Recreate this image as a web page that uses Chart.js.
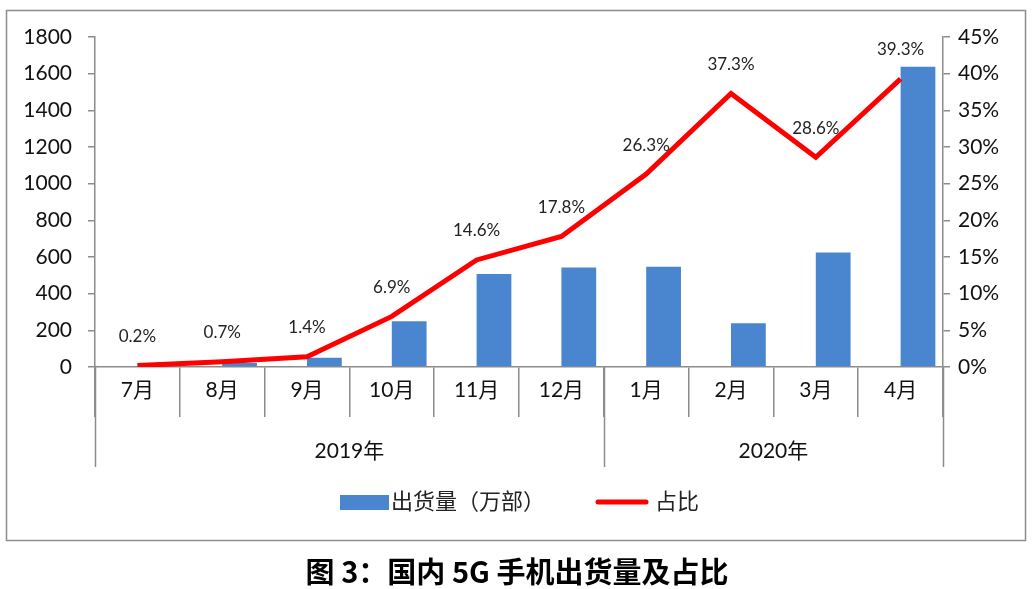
<!DOCTYPE html>
<html>
<head>
<meta charset="utf-8">
<script src="https://cdn.jsdelivr.net/npm/chart.js@4"></script>
<style>
  html, body { margin: 0; padding: 0; background: #fff; }
  #wrap { position: relative; width: 1034px; height: 589px; }
</style>
</head>
<body>
<div id="wrap"><canvas id="shipChart" width="1034" height="589"></canvas></div>
<script>
// chart data
const months = ['7月', '8月', '9月', '10月', '11月', '12月', '1月', '2月', '3月', '4月'];
const shipments = [3, 22, 50, 249, 507, 543, 547, 239, 624, 1638];
const shareRatio = [0.2, 0.7, 1.4, 6.9, 14.6, 17.8, 26.3, 37.3, 28.6, 39.3];
const years = ['2019年', '2020年'];
const yearMonthCounts = [6, 4];
const leftTickMax = 1800, leftTickStep = 200;
const rightTickMax = 45, rightTickStep = 5;

const FONT = "Lato, 'Noto Sans CJK SC', sans-serif";
const AXIS_GREY = '#8c8c8c';
const BAR_BLUE = '#4a85d0';

// extras: border, year row, data labels, legend, caption
const extrasPlugin = {
    id: 'extras',
    afterDatasetsDraw(chart) {
        const ctx = chart.ctx;
        const lineMeta = chart.getDatasetMeta(2);
        ctx.save();
        ctx.font = '17px ' + FONT;
        ctx.fillStyle = '#222';
        ctx.textAlign = 'center';
        ctx.textBaseline = 'middle';
        lineMeta.data.forEach((pt, i) => {
            ctx.fillText(shareRatio[i].toFixed(1) + '%', pt.x, pt.y - 29);
        });
        ctx.restore();
    },
    afterDraw(chart) {
        const ctx = chart.ctx;
        const area = chart.chartArea;
        const catW = (area.right - area.left) / months.length;

        ctx.save();
        // outer frame
        ctx.strokeStyle = AXIS_GREY;
        ctx.lineWidth = 1.5;
        ctx.strokeRect(6.5, 10.5, 1019, 530);

        // year group row
        let start = 0;
        const edges = [0];
        yearMonthCounts.forEach(n => { start += n; edges.push(start); });
        edges.forEach(idx => {
            const px = Math.round(area.left + idx * catW) + 0.5;
            ctx.beginPath();
            ctx.moveTo(px, area.bottom);
            ctx.lineTo(px, area.bottom + 100);
            ctx.stroke();
        });
        ctx.font = '21px ' + FONT;
        ctx.fillStyle = '#111';
        ctx.textAlign = 'center';
        ctx.textBaseline = 'middle';
        years.forEach((label, i) => {
            const cx = area.left + (edges[i] + edges[i + 1]) / 2 * catW;
            ctx.fillText(label, cx, area.bottom + 84);
        });

        // legend
        ctx.fillStyle = BAR_BLUE;
        ctx.fillRect(340, 495, 49, 15);
        ctx.font = '22px ' + FONT;
        ctx.fillStyle = '#222';
        ctx.textAlign = 'left';
        ctx.fillText(chart.data.datasets[1].label, 391, 502);
        ctx.strokeStyle = '#ff0000';
        ctx.lineWidth = 5;
        ctx.lineCap = 'round';
        ctx.beginPath();
        ctx.moveTo(598, 502);
        ctx.lineTo(646, 502);
        ctx.stroke();
        ctx.fillText(chart.data.datasets[2].label, 655, 502);

        // caption
        ctx.font = "bold 29px 'Noto Sans CJK SC', sans-serif";
        ctx.fillStyle = '#000';
        ctx.textAlign = 'center';
        ctx.fillText('图 3：国内 5G 手机出货量及占比', 517, 572);
        ctx.restore();
    }
};

const ctx = document.getElementById('shipChart').getContext('2d');
new Chart(ctx, {
    data: {
        labels: months,
        datasets: [
            {
                // empty slot so the real bar sits right of centre, as in the original
                type: 'bar',
                label: '',
                data: months.map(() => null),
                backgroundColor: 'rgba(0,0,0,0)',
                yAxisID: 'y',
                order: 1
            },
            {
                type: 'bar',
                label: '出货量（万部）',
                data: shipments,
                backgroundColor: BAR_BLUE,
                yAxisID: 'y',
                order: 1
            },
            {
                type: 'line',
                label: '占比',
                data: shareRatio,
                borderColor: '#ff0000',
                borderWidth: 5,
                pointRadius: 0,
                tension: 0,
                yAxisID: 'y1',
                order: 0
            }
        ]
    },
    options: {
        responsive: false,
        animation: false,
        devicePixelRatio: 1,
        categoryPercentage: 0.82,
        barPercentage: 1.0,
        layout: { padding: { left: 0, right: 0, top: 37, bottom: 122 } },
        plugins: {
            legend: { display: false },
            tooltip: { enabled: false }
        },
        scales: {
            x: {
                offset: true,
                grid: {
                    offset: true,
                    drawOnChartArea: false,
                    drawTicks: true,
                    tickLength: 50,
                    color: AXIS_GREY,
                    lineWidth: 1.5
                },
                border: { color: AXIS_GREY, width: 1.5 },
                ticks: {
                    color: '#111',
                    font: { family: FONT, size: 21 },
                    padding: -39,
                    maxRotation: 0,
                    autoSkip: false
                },
                afterFit(scale) { scale.height = 100; }
            },
            y: {
                position: 'left',
                min: 0,
                max: leftTickMax,
                grid: {
                    drawOnChartArea: false,
                    tickLength: 7,
                    color: AXIS_GREY,
                    lineWidth: 1.5
                },
                border: { color: AXIS_GREY, width: 1.5 },
                ticks: {
                    stepSize: leftTickStep,
                    color: '#111',
                    font: { family: FONT, size: 21 },
                    padding: 16,
                    callback: v => String(v)
                },
                afterFit(scale) { scale.width = 95; }
            },
            y1: {
                position: 'right',
                min: 0,
                max: rightTickMax,
                grid: {
                    drawOnChartArea: false,
                    tickLength: 7,
                    color: AXIS_GREY,
                    lineWidth: 1.5
                },
                border: { color: AXIS_GREY, width: 1.5 },
                ticks: {
                    stepSize: rightTickStep,
                    color: '#111',
                    font: { family: FONT, size: 21 },
                    padding: 8,
                    callback: v => v + '%'
                },
                afterFit(scale) { scale.width = 91; }
            }
        }
    },
    plugins: [extrasPlugin]
});
</script>
</body>
</html>
